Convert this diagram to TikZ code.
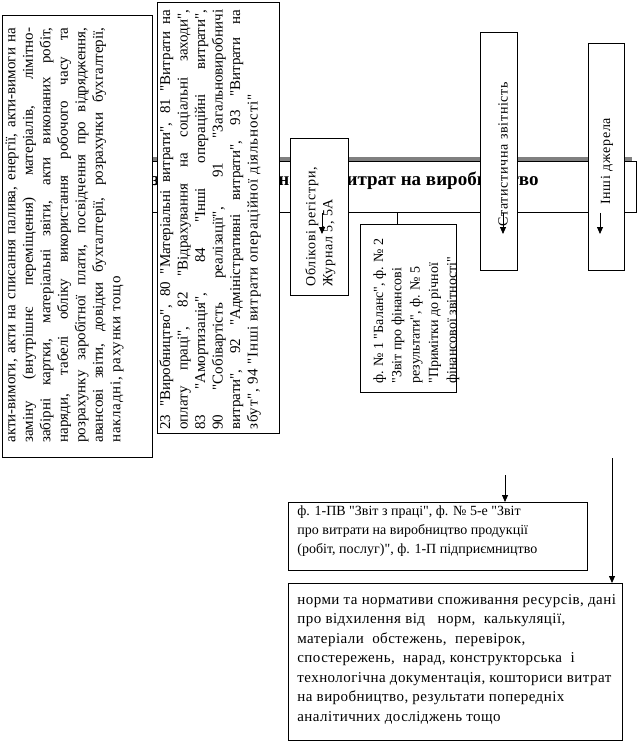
\documentclass[tikz,border=0pt]{standalone}
\usepackage{fontspec}
\setmainfont{Liberation Serif}[Ligatures=TeXOff]
\newfontfamily\spacedserif{Liberation Serif}[Ligatures=TeXOff, LetterSpace=5]
\newfontfamily\looseserif{Liberation Serif}[Ligatures=TeXOff, LetterSpace=3]
\usepackage{tikz}
\usetikzlibrary{arrows.meta, positioning, calc}
\definecolor{shadowgray}{RGB}{128,128,128}
\newcommand{\spreadline}[2]{\makebox[#1][s]{#2}}
\tikzset{
  srcbox/.style={draw, fill=white, inner sep=0pt, anchor=north west},
  vtext/.style={rotate=90, anchor=north west, inner sep=0pt, align=left, font=\fontsize{15}{17.5}\selectfont},
  htext/.style={anchor=north west, inner sep=0pt, align=left, font=\fontsize{14}{19.3}\selectfont},
  feed/.style={-{Triangle[length=7pt,width=6pt]}},
}

\begin{document}
\begin{tikzpicture}[x=1pt, y=-1pt, line width=0.8pt, every node/.style={font=\fontsize{14}{17.5}\selectfont}]
  \useasboundingbox (0,0) rectangle (637,752);

  % Title band with its shadow
  \fill[shadowgray] (2,157) rectangle (632,208);
  \node[srcbox, minimum width=630pt, minimum height=51pt] (title) at (6,161) {};
  \node[anchor=east, inner sep=0pt, font=\fontsize{19}{22}\selectfont\bfseries] (titletext) at (539,181) {Інформаційне забезпечення аналізу витрат на виробництво};

  % Source boxes
  \node[srcbox, minimum width=150pt, minimum height=442pt] (acts) at (2,15) {};
  \node[srcbox, minimum width=122pt, minimum height=431pt] (accounts) at (157,2) {};
  \node[srcbox, minimum width=58pt, minimum height=157pt] (registers) at (290,138) {};
  \node[srcbox, minimum width=96pt, minimum height=168pt] (reports) at (360,224) {};
  \node[srcbox, minimum width=37pt, minimum height=238pt] (stat) at (480,32) {};
  \node[srcbox, minimum width=36pt, minimum height=227pt] (other) at (588,43) {};
  \node[srcbox, minimum width=299pt, minimum height=68pt] (statforms) at (288,502) {};
  \node[srcbox, minimum width=334pt, minimum height=157pt] (norms) at (288,583) {};

  % Rotated texts
  \node[vtext] (actstext) at (5,443) {%
    \spreadline{415pt}{акти-вимоги, акти на списання палива, енергії, акти-вимоги на}\\
    \spreadline{415pt}{заміну (внутрішнє переміщення) матеріалів, лімітно-}\\
    \spreadline{415pt}{забірні картки, матеріальні звіти, акти виконаних робіт,}\\
    \spreadline{415pt}{наряди, табелі обліку використання робочого часу та}\\
    \spreadline{415pt}{розрахунку заробітної плати, посвідчення про відрядження,}\\
    \spreadline{415pt}{авансові звіти, довідки бухгалтерії, розрахунки бухгалтерії,}\\
    {\spacedserif накладні, рахунки тощо}};
  \node[vtext] (accountstext) at (159,430) {%
    \spreadline{420pt}{23 "Виробництво", 80 "Матеріальні витрати", 81 "Витрати на}\\
    \spreadline{420pt}{оплату праці", 82 "Відрахування на соціальні заходи",}\\
    \spreadline{420pt}{83 "Амортизація", 84 "Інші операційні витрати",}\\
    \spreadline{420pt}{90 "Собівартість реалізації", 91 "Загальновиробничі}\\
    \spreadline{420pt}{витрати", 92 "Адміністративні витрати", 93 "Витрати на}\\
    {\spacedserif збут", 94 "Інші витрати операційної діяльності"}};
  \node[vtext, font=\fontsize{14}{17}\spacedserif] (registerstext) at (305,287) {Облікові регістри,\\ Журнал 5, 5А};
  \node[vtext, font=\fontsize{14}{18.3}\selectfont] (reportstext) at (373,384) {ф. № 1 "Баланс", ф. № 2\\ "Звіт про фінансові\\ результати", ф. № 5\\ "Примітки до річної\\ фінансової звітності"};
  \node[rotate=90, anchor=west, inner sep=0pt, font=\fontsize{14}{17}\spacedserif] (stattext) at (503,227) {Статистична звітність};
  \node[rotate=90, anchor=west, inner sep=0pt, font=\fontsize{14}{17}\spacedserif] (othertext) at (607,205) {Інші джерела};

  % Horizontal texts
  \node[htext] (statformstext) at (297,505) {ф. 1-ПВ "Звіт з праці", ф. № 5-е "Звіт\\ про витрати на виробництво продукції\\ (робіт, послуг)", ф. 1-П підприємництво};
  \node[htext, font=\fontsize{15}{19.5}\looseserif] (normstext) at (297,594) {норми та нормативи споживання ресурсів, дані\\ про відхилення від\ \ \ норм,\ \ калькуляції,\\ матеріали\ \ обстежень,\ \ перевірок,\\ спостережень,\ \ нарад, конструкторська\ \ і\\ технологічна документація, кошториси витрат\\ на виробництво, результати попередніх\\ аналітичних досліджень тощо};

  % Arrows
  \coordinate (regtip) at (322,234);
  \coordinate (stattip) at (503,234);
  \coordinate (othertip) at (600,234);
  \coordinate (repin) at (397,224);
  \coordinate (sftail) at (505,475);
  \coordinate (nmtail) at (612,458);
  \draw[feed] (title.south -| regtip) -- (regtip);
  \draw[feed] (title.south -| stattip) -- (stattip);
  \draw[feed] (title.south -| othertip) -- (othertip);
  \draw (title.south -| repin) -- (repin);
  \draw[feed] (sftail) -- (sftail |- statforms.north);
  \draw[feed] (nmtail) -- (nmtail |- norms.north);
\end{tikzpicture}
\end{document}
